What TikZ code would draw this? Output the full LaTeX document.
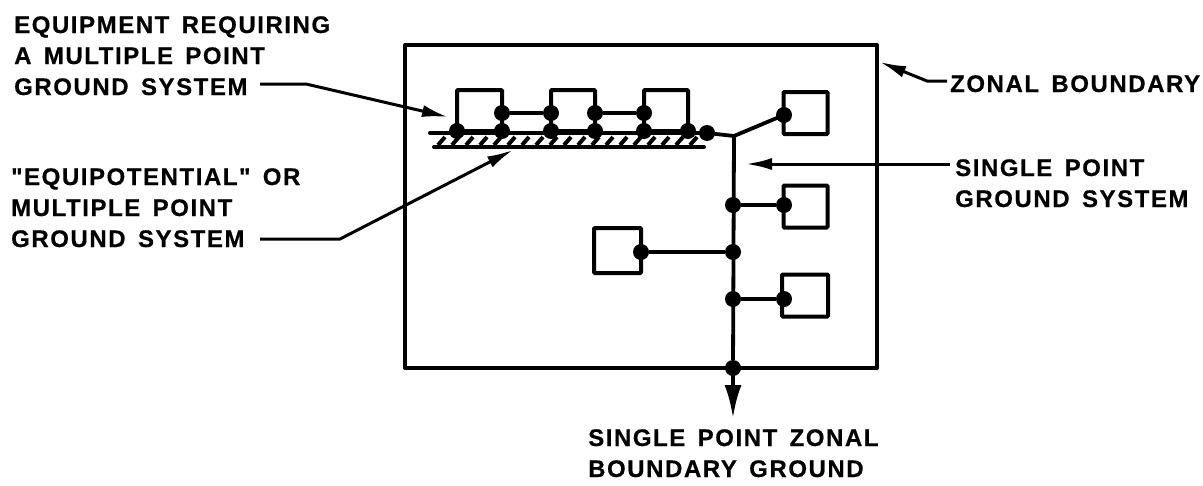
\documentclass[tikz,border=0pt]{standalone}
\usepackage{fontspec}
\setmainfont{Liberation Sans}
\newfontfamily\labelfont{Liberation Sans}[LetterSpace=6.5,WordSpace=1.5,BoldFeatures={FakeBold=0.5}]
\usetikzlibrary{arrows.meta}
\tikzset{
  x=1pt,y=-1pt,
  labeltext/.style={anchor=base west,inner sep=0pt,align=left,font=\labelfont\fontsize{24}{31}\selectfont\bfseries},
  wire/.style={line width=3.8pt,black},
  frameline/.style={line width=4pt,black,line join=round},
  leader/.style={line width=3pt,black,line join=round},
  boxnode/.style={draw,line width=4pt,minimum width=44pt,minimum height=42pt,inner sep=0pt,rounded corners=1pt},
  dot/.style={circle,fill=black,inner sep=0pt,minimum size=16pt},
  leadhead/.style={-{Latex[length=26pt,width=12pt]}},
  bighead/.style={-{Latex[length=33pt,width=17pt]}}
}
\begin{document}
\begin{tikzpicture}
\useasboundingbox (0,0) rectangle (1203,485);
\fill[white] (0,0) rectangle (1203,485);
% zonal boundary
\node[draw,frameline,minimum width=472pt,minimum height=323pt,inner sep=0pt] (zone) at (641,206.5) {};
% equipment boxes
\node[boxnode,minimum width=45pt,minimum height=41pt] (b1) at (479.5,110.5) {};
\node[boxnode,minimum width=44pt,minimum height=41pt] (b2) at (573,110.5) {};
\node[boxnode,minimum width=44pt,minimum height=41pt] (b3) at (666,110.5) {};
\node[boxnode] (r1) at (805.5,113) {};
\node[boxnode] (r2) at (805.5,206.5) {};
\node[boxnode,minimum width=46pt] (r3) at (805,295.5) {};
\node[boxnode,minimum width=47pt,minimum height=45pt] (l1) at (617.5,250.5) {};
% bus and ground plate
\coordinate (busL) at (430,133);
\coordinate (busR) at (707,133);
\coordinate (junc) at (734,136);
\coordinate (plateL) at (434,147);
\coordinate (plateR) at (704,147);
\draw[line width=4pt,line cap=round] (busL) -- (busR);
\draw[line width=4pt,line cap=round] (plateL) -- (plateR);
\foreach \x in {438,452,...,696}{
  \draw[line width=4pt] (\x,145) -- (\x+7,137);
}
% dots
\node[dot] (d1) at (457,131) {};
\node[dot] (d2) at (502,113) {};
\node[dot] (d3) at (502,131) {};
\node[dot] (d4) at (551,113) {};
\node[dot] (d5) at (551,131) {};
\node[dot] (d6) at (595,113) {};
\node[dot] (d7) at (595,131) {};
\node[dot] (d8) at (644,113) {};
\node[dot] (d9) at (644,131) {};
\node[dot] (d10) at (688,131) {};
\node[dot] (d11) at (707,133) {};
\node[dot] (dr1) at (784,115) {};
\node[dot] (dr2) at (784,205) {};
\node[dot] (j2) at (733,205) {};
\node[dot] (dl) at (641,252) {};
\node[dot] (j3) at (733,252) {};
\node[dot] (dr3) at (784,299) {};
\node[dot] (j4) at (733,299) {};
\node[dot] (j5) at (733,368) {};
\coordinate (tip) at (733,418);
% wires
\draw[wire] (d2) -- (d4);
\draw[wire] (d6) -- (d8);
\draw[wire] (d2) -- (d3);
\draw[wire] (d4) -- (d5);
\draw[wire] (d6) -- (d7);
\draw[wire] (d8) -- (d9);
\draw[wire,line join=round] (d11.center) -- (junc) -- (dr1.center);
\draw[wire] (junc) -- (j5);
\draw[wire] (j2) -- (dr2);
\draw[wire] (dl) -- (j3);
\draw[wire] (j4) -- (dr3);
\draw[wire,bighead] (j5.center) -- (tip);
% labels
\node[labeltext] (t1) at (14,95) {EQUIPMENT REQUIRING\\A MULTIPLE POINT\\GROUND SYSTEM};
\node[labeltext] (t2) at (11,247) {\symbol{34}EQUIPOTENTIAL\symbol{34} OR\\MULTIPLE POINT\\GROUND SYSTEM};
\node[labeltext] (t3) at (950,92) {ZONAL BOUNDARY};
\node[labeltext] (t4) at (955,207) {SINGLE POINT\\GROUND SYSTEM};
\node[labeltext] (t5) at (588,477) {SINGLE POINT ZONAL\\BOUNDARY GROUND};
% leaders
\coordinate (a1) at (260,84); \coordinate (a2) at (306,84); \coordinate (a3) at (448,117);
\coordinate (c1) at (260,239); \coordinate (c2) at (340,239); \coordinate (c3) at (513,150);
\coordinate (e1) at (947,81); \coordinate (e2) at (927,81); \coordinate (e3) at (880,62);
\coordinate (f1) at (950,164); \coordinate (f3) at (746,164);
\draw[leader,leadhead] (a1) -- (a2) -- (a3);
\draw[leader,leadhead] (c1) -- (c2) -- (c3);
\draw[leader,leadhead] (e1) -- (e2) -- (e3);
\draw[leader,leadhead] (f1) -- (f3);
\end{tikzpicture}
\end{document}
